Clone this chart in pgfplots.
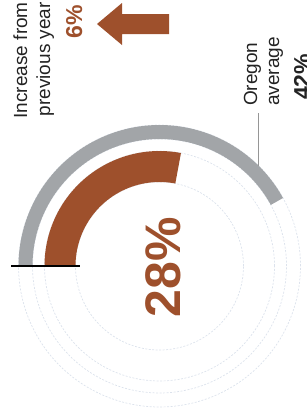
\documentclass[border=0pt]{standalone}
\usepackage{fontspec}
\setmainfont{Liberation Sans}
\usepackage{pgfplots}
\pgfplotsset{compat=1.18}
\definecolor{gbrown}{RGB}{158,80,44}
\definecolor{ggrey}{RGB}{162,165,168}
\definecolor{gtext}{RGB}{35,35,35}
\definecolor{gfaint}{RGB}{220,226,236}
\definecolor{gline}{RGB}{150,150,150}
% data: value (percent), Oregon average (percent), increase (percent)
\def\valueA{28}
\def\valueAvg{42}
\begin{document}
\begin{tikzpicture}
\useasboundingbox (0,0) rectangle (307pt,418pt);
\begin{axis}[at={(0,0)}, anchor=south west,
  width=307pt, height=418pt, scale only axis,
  xmin=0, xmax=307, ymin=0, ymax=418, y dir=reverse,
  hide axis, clip=false]
% faint background circles
\foreach \r in {84,115,127,141}{
  \addplot[gfaint, line width=0.7pt, dash pattern=on 2pt off 1.5pt, domain=0:100, samples=150, no marks]
    ({159.5+\r*cos(3.6*x)}, {266-\r*sin(3.6*x)});
}
% Oregon average band
\addplot[ggrey, line width=14pt, domain=0:\valueAvg, samples=120, no marks]
  ({159.5+134*cos(180-3.6*x)}, {266-134*sin(180-3.6*x)});
% value band
\addplot[gbrown, line width=31pt, domain=0:\valueA, samples=120, no marks]
  ({159.5+99.5*cos(180-3.6*x)}, {266-99.5*sin(180-3.6*x)});
% baseline
\addplot[black, line width=2.5pt, no marks] coordinates {(11,266) (80,266)};
% leader line
\addplot[gline, line width=0.9pt, no marks] coordinates {(258,113) (258,166)};
% arrow
\addplot[fill=gbrown, draw=none, no marks] coordinates
  {(97,24) (122,3) (122,14) (169,14) (169,34) (122,34) (122,45)} -- cycle;
% texts
\node[rotate=90, anchor=base east, inner sep=0pt, text=gtext, font=\fontsize{19}{22}\selectfont] at (axis cs:27,2) {Increase from};
\node[rotate=90, anchor=base east, inner sep=0pt, text=gtext, font=\fontsize{19}{22}\selectfont] at (axis cs:50,2) {previous year};
\node[rotate=90, anchor=base east, inner sep=0pt, text=gbrown, font=\fontsize{23}{27}\selectfont\bfseries] at (axis cs:82,5) {6\%};
\node[rotate=90, anchor=base west, inner sep=0pt, text=gtext, font=\fontsize{19}{22}\selectfont] at (axis cs:257,106) {Oregon};
\node[rotate=90, anchor=base west, inner sep=0pt, text=gtext, font=\fontsize{19}{22}\selectfont] at (axis cs:279,106) {average};
\node[rotate=90, anchor=base west, inner sep=0pt, text=gtext, font=\fontsize{23}{27}\selectfont\bfseries] at (axis cs:310,100) {42\%};
\node[rotate=90, anchor=base, inner sep=0pt, text=gbrown, font=\fontsize{50}{60}\selectfont\bfseries] at (axis cs:180,267) {28\%};
\end{axis}
\end{tikzpicture}
\end{document}
